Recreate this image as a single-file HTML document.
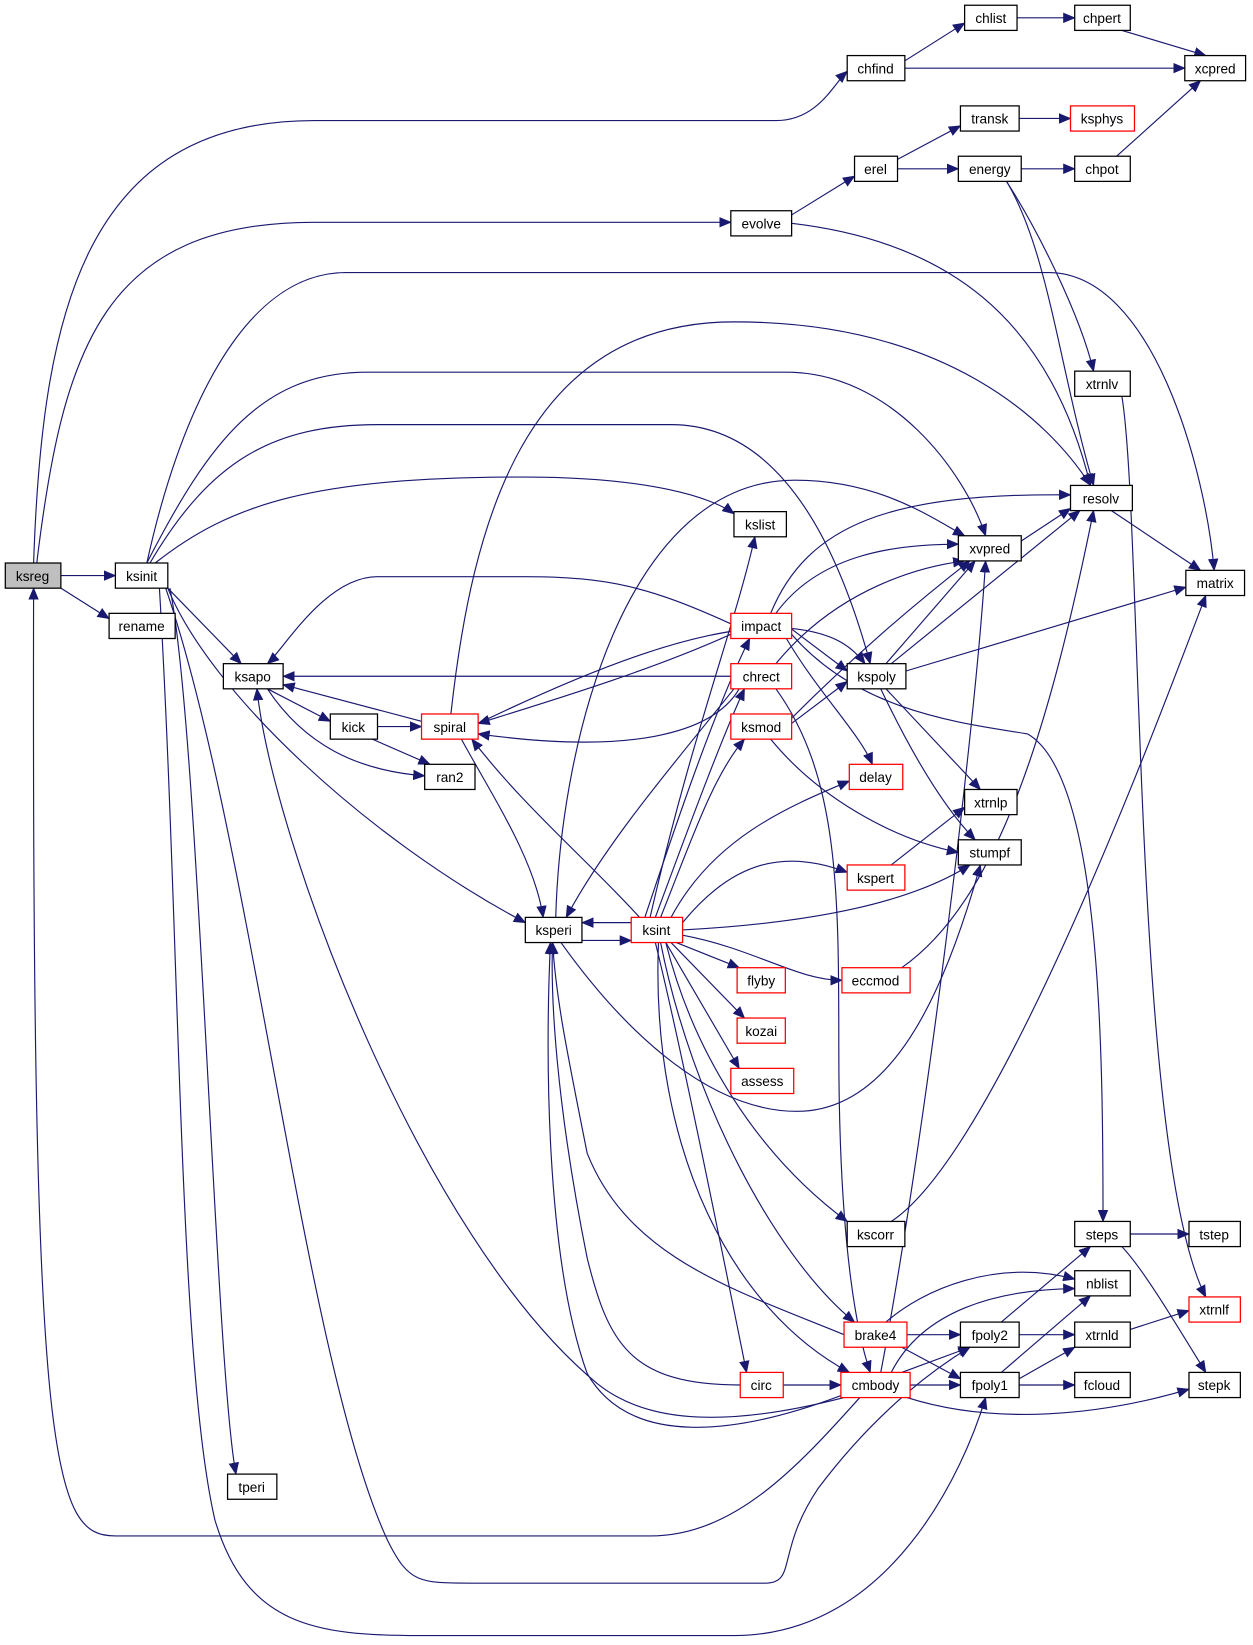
<!DOCTYPE html>
<html><head><meta charset="utf-8"><style>html,body{margin:0;padding:0;background:#fff}svg{display:block}</style></head><body>
<svg width="1253" height="1645" viewBox="0 0 1195 1569" xmlns="http://www.w3.org/2000/svg" font-family="Liberation Sans, sans-serif" font-size="13">
<defs><marker id="a" markerUnits="userSpaceOnUse" markerWidth="12" markerHeight="10" refX="11" refY="5" orient="auto"><path d="M0,0 L12,5 L0,10 z" fill="#191970"/></marker></defs>
<g fill="none" stroke="#191970" stroke-width="1.1" marker-end="url(#a)">
<path d="M32,537 C40,300 80,115 300,115 L740,115 C780,115 795,80 808,68"/>
<path d="M35,537 C60,330 100,212 300,212 L697,212"/>
<path d="M58,549 L110,549"/>
<path d="M58,561 L104,590"/>
<path d="M820,1333 C760,1400 700,1465 620,1465 L110,1465 C50,1465 30,1400 32,561"/>
<path d="M140,537 C170,400 230,260 330,260 L1000,260 C1100,260 1150,450 1158,544"/>
<path d="M140,537 C200,420 250,355 350,355 L750,355 C850,355 920,450 940,511"/>
<path d="M143,537 C200,440 260,405 360,405 L640,405 C760,405 810,560 830,633"/>
<path d="M148,537 C220,480 300,455 500,455 C620,455 680,475 700,490"/>
<path d="M160,561 L230,633"/>
<path d="M160,561 C200,660 350,800 501,880"/>
<path d="M162,561 C190,700 205,1300 225,1406"/>
<path d="M152,561 C172,900 170,1300 205,1450 C235,1550 300,1560 400,1560 L700,1560 C850,1560 920,1400 940,1333"/>
<path d="M158,561 C240,800 290,1300 370,1470 C390,1510 400,1510 450,1510 L730,1510 C760,1510 740,1480 780,1420 C840,1340 900,1300 925,1285"/>
<path d="M863,58 L920,22"/><path d="M863,65 L1130,65"/><path d="M970,17 L1025,17"/>
<path d="M1070,29 L1150,53"/><path d="M1065,149 L1145,77"/>
<path d="M755,205 L815,168"/><path d="M755,213 C900,230 1000,300 1040,463"/>
<path d="M856,152 L916,120"/><path d="M856,161 L914,161"/><path d="M972,113 L1021,113"/><path d="M974,161 L1025,161"/>
<path d="M960,173 C990,220 1030,300 1043,354"/>
<path d="M960,173 C1000,240 1010,350 1043,463"/>
<path d="M1070,378 C1090,500 1080,1100 1150,1237"/>
<path d="M1060,487 L1145,544"/><path d="M974,516 L1021,485"/>
<path d="M430,681 C450,500 500,307 700,307 C900,307 1000,400 1040,463"/>
<path d="M735,585 C770,500 850,470 1021,472"/>
<path d="M740,585 C780,530 850,519 914,519"/>
<path d="M740,633 C800,560 880,540 920,535"/>
<path d="M755,685 C820,620 880,570 925,535"/>
<path d="M845,633 L930,535"/><path d="M850,633 L1030,487"/><path d="M864,640 L1131,560"/>
<path d="M845,657 L935,753"/><path d="M840,657 C870,720 900,770 930,801"/>
<path d="M755,690 L808,650"/><path d="M735,705 C780,760 850,800 914,813"/>
<path d="M755,600 L808,640"/><path d="M750,609 C780,660 820,700 832,729"/>
<path d="M755,605 C820,680 920,690 980,700 C1050,740 1052,1000 1052,1165"/>
<path d="M697,645 L270,645"/>
<path d="M705,657 C680,700 600,720 456,700"/>
<path d="M700,657 C650,720 580,800 540,875"/>
<path d="M740,657 C800,740 800,850 800,1000 C800,1200 820,1280 830,1309"/>
<path d="M697,595 C620,560 580,550 500,550 L360,550 C310,550 270,620 255,633"/>
<path d="M697,605 C620,640 520,670 456,690"/>
<path d="M402,688 L270,653"/>
<path d="M456,690 C560,640 680,590 760,600 C800,605 815,620 825,633"/>
<path d="M440,705 C470,760 510,820 518,875"/>
<path d="M255,657 L315,688"/><path d="M255,657 C290,710 340,735 405,740"/>
<path d="M360,693 L402,693"/><path d="M355,705 L410,729"/>
<path d="M555,897 L602,897"/><path d="M602,880 L555,880"/>
<path d="M530,875 C535,700 600,458 758,458 C840,458 890,495 920,511"/>
<path d="M535,899 C600,990 680,1060 760,1060 C850,1060 900,950 935,825"/>
<path d="M805,1333 C700,1360 620,1360 570,1320 C400,1180 260,800 245,657"/>
<path d="M805,1330 C700,1370 600,1380 560,1310 C520,1200 520,1000 525,899"/>
<path d="M706,1321 C600,1321 580,1280 560,1200 C530,1050 525,950 527,899"/>
<path d="M805,1273 C700,1230 600,1200 560,1100 C540,1000 530,950 527,899"/>
<path d="M615,875 C640,800 680,680 715,609"/>
<path d="M620,875 C660,700 700,600 720,512"/>
<path d="M625,875 C660,780 690,700 710,657"/>
<path d="M630,875 C660,800 680,740 710,705"/>
<path d="M640,875 C680,800 750,770 810,745"/>
<path d="M651,880 C700,820 750,810 808,832"/>
<path d="M651,887 C780,880 870,860 925,825"/>
<path d="M651,892 C720,905 760,935 803,935"/>
<path d="M645,899 L705,923"/><path d="M640,899 L710,971"/><path d="M635,899 L705,1019"/>
<path d="M635,899 C660,1000 720,1100 808,1165"/>
<path d="M630,899 C660,1050 740,1200 815,1261"/>
<path d="M625,899 C650,1000 690,1200 712,1309"/>
<path d="M628,899 C620,1100 700,1250 810,1309"/>
<path d="M610,875 C560,820 500,770 450,705"/>
<path d="M850,825 L920,770"/>
<path d="M860,923 C950,860 1000,700 1043,487"/>
<path d="M850,1165 C950,1100 1100,700 1150,568"/>
<path d="M845,1261 C880,1230 950,1200 1025,1220"/>
<path d="M865,1273 L916,1273"/><path d="M860,1285 L916,1315"/>
<path d="M747,1321 L802,1321"/><path d="M868,1321 L916,1321"/>
<path d="M860,1309 L925,1285"/>
<path d="M850,1309 C880,1250 950,1230 1025,1229"/>
<path d="M840,1309 C880,1100 930,700 940,535"/>
<path d="M865,1333 C950,1360 1050,1350 1134,1325"/>
<path d="M955,1261 L1040,1189"/><path d="M972,1273 L1025,1273"/>
<path d="M955,1309 L1040,1236"/><path d="M972,1315 L1025,1285"/><path d="M972,1321 L1025,1321"/>
<path d="M1078,1268 L1134,1250"/><path d="M1078,1177 L1134,1177"/>
<path d="M1070,1189 C1090,1210 1120,1260 1150,1309"/>
</g>
<g stroke-width="1.2" text-anchor="middle">
<g fill="#fff" stroke="#000">
<rect x="5" y="537" width="53" height="24" fill="#bfbfbf"/>
<rect x="110" y="537" width="50" height="24"/><rect x="104" y="585" width="63" height="24"/>
<rect x="213" y="633" width="57" height="24"/><rect x="315" y="681" width="45" height="24"/>
<rect x="405" y="729" width="48" height="24"/><rect x="217" y="1406" width="47" height="24"/>
<rect x="501" y="875" width="54" height="24"/><rect x="700" y="488" width="50" height="24"/>
<rect x="808" y="633" width="56" height="24"/><rect x="808" y="1165" width="55" height="24"/>
<rect x="697" y="201" width="58" height="24"/><rect x="808" y="53" width="55" height="24"/>
<rect x="920" y="5" width="50" height="24"/><rect x="1025" y="5" width="53" height="24"/>
<rect x="1130" y="53" width="58" height="24"/><rect x="815" y="149" width="41" height="24"/>
<rect x="916" y="101" width="56" height="24"/><rect x="914" y="149" width="60" height="24"/>
<rect x="1025" y="149" width="53" height="24"/><rect x="1025" y="354" width="53" height="24"/>
<rect x="1021" y="463" width="59" height="24"/><rect x="914" y="511" width="60" height="24"/>
<rect x="1131" y="544" width="56" height="24"/><rect x="920" y="753" width="50" height="24"/>
<rect x="914" y="801" width="60" height="24"/><rect x="1025" y="1165" width="53" height="24"/>
<rect x="1134" y="1165" width="49" height="24"/><rect x="1025" y="1212" width="53" height="24"/>
<rect x="916" y="1261" width="56" height="24"/><rect x="1025" y="1261" width="53" height="24"/>
<rect x="916" y="1309" width="56" height="24"/><rect x="1025" y="1309" width="53" height="24"/>
<rect x="1134" y="1309" width="49" height="24"/>
</g>
<g fill="#fff" stroke="#f00">
<rect x="402" y="681" width="54" height="24"/><rect x="602" y="875" width="49" height="24"/>
<rect x="697" y="585" width="58" height="24"/><rect x="697" y="633" width="58" height="24"/>
<rect x="697" y="681" width="58" height="24"/><rect x="810" y="729" width="51" height="24"/>
<rect x="808" y="825" width="55" height="24"/><rect x="703" y="923" width="46" height="24"/>
<rect x="703" y="971" width="46" height="24"/><rect x="697" y="1019" width="60" height="24"/>
<rect x="803" y="923" width="65" height="24"/><rect x="805" y="1261" width="60" height="24"/>
<rect x="706" y="1309" width="41" height="24"/><rect x="802" y="1309" width="66" height="24"/>
<rect x="1021" y="101" width="61" height="24"/><rect x="1134" y="1237" width="49" height="24"/>
</g>
<g fill="#000">
<text x="31" y="554">ksreg</text><text x="135" y="554">ksinit</text><text x="135" y="602">rename</text>
<text x="241" y="650">ksapo</text><text x="337" y="698">kick</text><text x="429" y="698">spiral</text>
<text x="429" y="746">ran2</text><text x="240" y="1423">tperi</text><text x="528" y="892">ksperi</text>
<text x="626" y="892">ksint</text><text x="725" y="505">kslist</text><text x="726" y="602">impact</text>
<text x="726" y="650">chrect</text><text x="726" y="698">ksmod</text><text x="836" y="650">kspoly</text>
<text x="835" y="746">delay</text><text x="835" y="842">kspert</text><text x="726" y="940">flyby</text>
<text x="726" y="988">kozai</text><text x="727" y="1036">assess</text><text x="835" y="940">eccmod</text>
<text x="835" y="1182">kscorr</text><text x="835" y="1278">brake4</text><text x="726" y="1326">circ</text>
<text x="835" y="1326">cmbody</text><text x="726" y="218">evolve</text><text x="835" y="70">chfind</text>
<text x="945" y="22">chlist</text><text x="1051" y="22">chpert</text><text x="1159" y="70">xcpred</text>
<text x="835" y="166">erel</text><text x="944" y="118">transk</text><text x="1051" y="118">ksphys</text>
<text x="944" y="166">energy</text><text x="1051" y="166">chpot</text><text x="1051" y="371">xtrnlv</text>
<text x="1050" y="480">resolv</text><text x="944" y="528">xvpred</text><text x="1159" y="561">matrix</text>
<text x="945" y="770">xtrnlp</text><text x="944" y="818">stumpf</text><text x="1051" y="1182">steps</text>
<text x="1158" y="1182">tstep</text><text x="1051" y="1229">nblist</text><text x="1158" y="1254">xtrnlf</text>
<text x="944" y="1278">fpoly2</text><text x="1051" y="1278">xtrnld</text><text x="944" y="1326">fpoly1</text>
<text x="1051" y="1326">fcloud</text><text x="1158" y="1326">stepk</text>
</g></g>
</svg>
</body></html>
